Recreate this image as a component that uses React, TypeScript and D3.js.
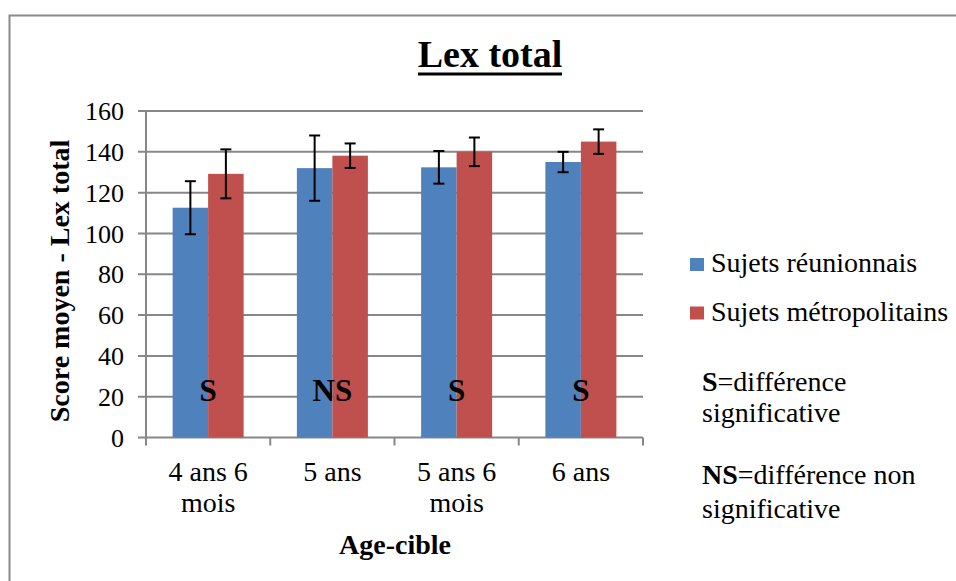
import React from 'react';
import * as d3 from 'd3';

const categories = [['4 ans 6', 'mois'], ['5 ans'], ['5 ans 6', 'mois'], ['6 ans']];
const seriesNames = ['Sujets réunionnais', 'Sujets métropolitains'];
const seriesColors = ['#4F81BD', '#C0504D'];
const reunion = [112.6, 132, 132.4, 135];
const reunionErr = [13, 16, 8, 5];
const metro = [129.2, 138.1, 140, 145];
const metroErr = [12, 6, 7, 6];
const significance = ['S', 'NS', 'S', 'S'];
const yTicks = [0, 20, 40, 60, 80, 100, 120, 140, 160];

const FONT = 'Liberation Serif';
const GRID = '#878787';

const left = 146, right = 643, top = 111, bottom = 437.5;

const keys = categories.map((_c, i) => String(i));
const x0 = d3.scaleBand<string>().domain(keys).range([left, right]);
const bw = x0.bandwidth();
const x1 = d3.scaleBand<string>().domain(['0', '1'])
  .range([bw * 0.75 / 3.5, bw - bw * 0.75 / 3.5]);
const y = d3.scaleLinear().domain([0, 160]).range([bottom, top]);

const series = [
  { vals: reunion, errs: reunionErr },
  { vals: metro, errs: metroErr },
];

const notes = [
  { bold: 'S', rest: '=différence', y: 391 },
  { bold: '', rest: 'significative', y: 422 },
  { bold: 'NS', rest: '=différence non', y: 484 },
  { bold: '', rest: 'significative', y: 518 },
];

export default function App() {
  const bounds = keys.map(k => x0(k) as number).concat([right]);
  const titleW = 144;

  return (
    <svg
      width={956}
      height={581}
      fontFamily={FONT}
      style={{ position: 'absolute', left: 0, top: 0, display: 'block' }}
    >
      {/* outer chart border */}
      <rect x={9.5} y={15.5} width={980} height={600} fill="white" stroke="#8a8a8a" strokeWidth={2} />

      {/* gridlines */}
      {yTicks.map(t => (
        <line key={t} x1={left - 8} x2={right} y1={y(t)} y2={y(t)} stroke={GRID} strokeWidth={2} />
      ))}
      <line x1={left} x2={left} y1={top} y2={bottom} stroke={GRID} strokeWidth={2} />
      {yTicks.map(t => (
        <text key={'l' + t} x={left - 22} y={y(t)} dy="0.35em" textAnchor="end" fontFamily={FONT} fontSize={26}>
          {t}
        </text>
      ))}
      {bounds.map((b, i) => (
        <line key={'b' + i} x1={b} x2={b} y1={bottom} y2={bottom + 8} stroke={GRID} strokeWidth={2} />
      ))}

      {/* bars */}
      {series.map((s, si) =>
        s.vals.map((v, i) => (
          <rect
            key={`r${si}-${i}`}
            x={(x0(String(i)) as number) + (x1(String(si)) as number)}
            width={x1.bandwidth()}
            y={y(v)}
            height={bottom - y(v)}
            fill={seriesColors[si]}
          />
        ))
      )}

      {/* error bars */}
      {series.map((s, si) =>
        s.vals.map((v, i) => {
          const cx = (x0(String(i)) as number) + (x1(String(si)) as number) + x1.bandwidth() / 2;
          const hi = y(v + s.errs[i]);
          const lo = y(v - s.errs[i]);
          return (
            <g key={`e${si}-${i}`} stroke="#000" strokeWidth={2}>
              <line x1={cx} x2={cx} y1={hi} y2={lo} />
              <line x1={cx - 5.5} x2={cx + 5.5} y1={hi} y2={hi} />
              <line x1={cx - 5.5} x2={cx + 5.5} y1={lo} y2={lo} />
            </g>
          );
        })
      )}

      {/* significance labels */}
      {significance.map((s, i) => (
        <text
          key={'s' + i}
          x={(x0(String(i)) as number) + bw / 2}
          y={401}
          textAnchor="middle"
          fontFamily={FONT}
          fontSize={31}
          fontWeight="bold"
        >
          {s}
        </text>
      ))}

      {/* category labels */}
      {categories.map((lines, i) => (
        <text key={'c' + i} textAnchor="middle" fontFamily={FONT} fontSize={28}>
          {lines.map((ln, li) => (
            <tspan key={li} x={(x0(String(i)) as number) + bw / 2} y={481 + li * 31}>
              {ln}
            </tspan>
          ))}
        </text>
      ))}

      {/* axis titles */}
      <text x={395} y={554} textAnchor="middle" fontFamily={FONT} fontSize={28} fontWeight="bold">
        Age-cible
      </text>
      <text transform="translate(69,281) rotate(-90)" textAnchor="middle" fontFamily={FONT} fontSize={28} fontWeight="bold">
        Score moyen - Lex total
      </text>

      {/* title */}
      <text x={490} y={67} textAnchor="middle" fontFamily={FONT} fontSize={38} fontWeight="bold">
        Lex total
      </text>
      <rect x={490 - titleW / 2} y={72.5} width={titleW} height={3} fill="#000" />

      {/* legend */}
      {seriesNames.map((name, i) => (
        <g key={name}>
          <rect x={690} y={258 + i * 48.5} width={14} height={13} fill={seriesColors[i]} />
          <text x={711} y={272 + i * 48.5} fontFamily={FONT} fontSize={28}>
            {name}
          </text>
        </g>
      ))}
      {notes.map((n, i) => (
        <text key={'n' + i} x={702} y={n.y} fontFamily={FONT} fontSize={28}>
          {n.bold ? <tspan fontWeight="bold">{n.bold}</tspan> : null}
          <tspan>{n.rest}</tspan>
        </text>
      ))}
    </svg>
  );
}
